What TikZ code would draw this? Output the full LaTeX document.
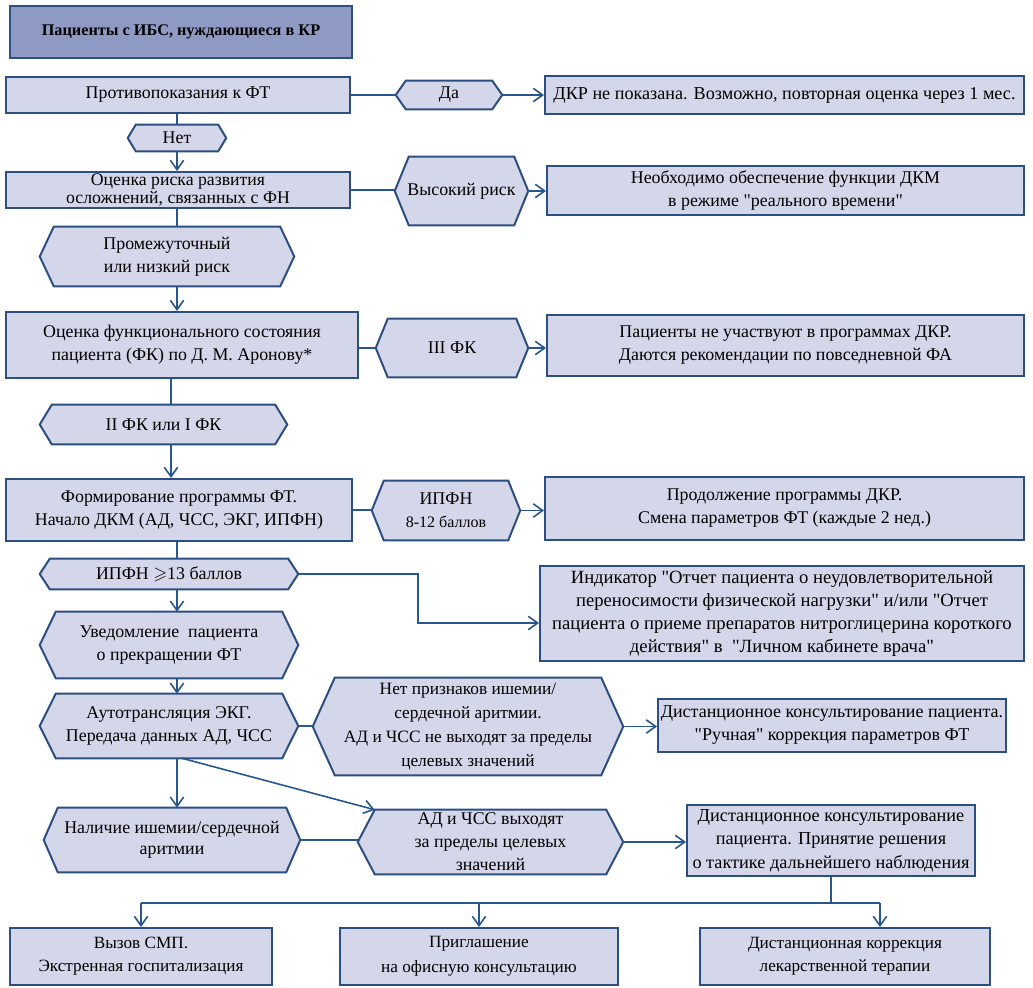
\documentclass[tikz,border=0pt]{standalone}
\usepackage{fontspec}
\setmainfont{Liberation Serif}[Ligatures=TeXOff]
\usepackage{amssymb}
\usetikzlibrary{arrows.meta,calc}
\pgfdeclarelayer{background}
\pgfsetlayers{background,main}
\definecolor{boxfill}{RGB}{212,215,233}
\definecolor{boxline}{RGB}{44,78,128}
\definecolor{titlefill}{RGB}{143,154,196}
\definecolor{conn}{RGB}{40,86,142}
\tikzset{
  boxsty/.style={draw=boxline, fill=boxfill, line width=1.5pt, inner sep=0pt, align=center, font=\fontsize{13.4}{17.25}\selectfont},
  hexlbl/.style={inner sep=0pt, align=center, font=\fontsize{13.4}{17.25}\selectfont},
  hexsty/.style={draw=boxline, fill=boxfill, line width=1.5pt, line join=miter},
  conline/.style={draw=conn, line width=1.2pt},
  conarrow/.style={conline, -{Straight Barb[length=7pt,width=10pt]}},
}
\newcommand\mybox[7][]{%
  \node[boxsty, minimum width={(#4-#3)*0.75pt}, minimum height={(#6-#5)*0.75pt}, #1] (#2) at ({(#3+#4)/2},{(#5+#6)/2}) {#7};}
\newcommand\myhex[8][]{%
  \node[hexlbl, minimum width={(#4-#3)*0.75pt}, minimum height={(#6-#5)*0.75pt}, #1] (#2) at ({(#3+#4)/2},{(#5+#6)/2}) {#8};
  \begin{pgfonlayer}{background}
  \draw[hexsty] (#2.west) -- ($(#2.north west)+(#7,0)$) -- ($(#2.north east)+(-#7,0)$) -- (#2.east) -- ($(#2.south east)+(-#7,0)$) -- ($(#2.south west)+(#7,0)$) -- cycle;
  \end{pgfonlayer}}
\begin{document}
\begin{tikzpicture}[x=0.75pt,y=-0.75pt]
\useasboundingbox (0,0) rectangle (1033,988);
% boxes
\mybox[fill=titlefill, font=\bfseries\fontsize{12.2}{14}\selectfont]{title}{10}{352}{6}{58}{Пациенты с ИБС, нуждающиеся в КР}
\mybox{prot}{6}{350}{77}{113}{Противопоказания к ФТ}
\mybox[font=\fontsize{13.6}{17.25}\selectfont]{dkr}{545}{1024}{76}{114}{ДКР не показана. Возможно, повторная оценка через 1 мес.}
\mybox[font=\fontsize{13.3}{13}\selectfont]{ocr}{6}{350}{172}{208}{Оценка риска развития\\осложнений, связанных с ФН}
\mybox{neob}{547}{1024}{166}{215}{Необходимо обеспечение функции ДКМ\\в режиме "реального времени"}
\mybox{ofs}{6}{358}{312}{378}{Оценка функционального состояния\\пациента (ФК) по Д. М. Аронову*}
\mybox{pac}{547}{1024}{315}{376}{Пациенты не участвуют в программах ДКР.\\Даются рекомендации по повседневной ФА}
\mybox{form}{6}{352}{479}{541}{Формирование программы ФТ.\\Начало ДКМ (АД, ЧСС, ЭКГ, ИПФН)}
\mybox{prod}{545}{1024}{477}{540}{Продолжение программы ДКР.\\Смена параметров ФТ (каждые 2 нед.)}
\mybox[font=\fontsize{14}{17.4}\selectfont]{ind}{540}{1024}{566}{661}{Индикатор "Отчет пациента о неудовлетворительной\\переносимости физической нагрузки" и/или "Отчет\\пациента о приеме препаратов нитроглицерина короткого\\действия" в~ "Личном кабинете врача"}
\mybox[font=\fontsize{13.5}{17.25}\selectfont]{dist1}{658}{1006}{699}{752}{Дистанционное консультирование пациента.\\"Ручная" коррекция параметров ФТ}
\mybox[font=\fontsize{13.7}{17.6}\selectfont]{dist2}{687}{975}{805}{876}{Дистанционное консультирование\\пациента. Принятие решения\\о тактике дальнейшего наблюдения}
\mybox[font=\fontsize{12.9}{17.25}\selectfont]{vyz}{10}{272}{928}{985}{Вызов СМП.\\Экстренная госпитализация}
\mybox[font=\fontsize{12.9}{18.5}\selectfont]{prig}{340}{618}{928}{985}{Приглашение\\на офисную консультацию}
\mybox[font=\fontsize{12.9}{17.25}\selectfont]{dkl}{700}{990}{928}{985}{Дистанционная коррекция\\лекарственной терапии}
% hexagons
\myhex{da}{396}{502}{81}{109}{10}{Да}
\myhex{net}{128}{226}{125}{151}{8}{Нет}
\myhex{vr}{395}{528}{157}{225}{14}{Высокий риск}
\myhex{prom}{40}{294}{227}{286}{14}{Промежуточный\\или низкий риск}
\myhex{iii}{376}{528}{319}{377}{12}{III ФК}
\myhex{ii}{40}{287}{405}{444}{12}{II ФК или I ФК}
\myhex{ipfn}{372}{520}{481}{540}{12}{ИПФН\\{\fontsize{12}{14}\selectfont 8-12 баллов}}
\myhex{ge}{40}{298}{559}{589}{10}{ИПФН $\geqslant$13 баллов}
\myhex{uved}{40}{298}{612}{678}{16}{Уведомление~ пациента\\о прекращении ФТ}
\myhex{auto}{40}{298}{694}{758}{16}{Аутотрансляция ЭКГ.\\Передача данных АД, ЧСС}
\myhex[font=\fontsize{13}{18}\selectfont]{np}{313}{623}{678}{775}{22}{Нет признаков ишемии/\\сердечной аритмии.\\АД и ЧСС не выходят за пределы\\целевых значений}
\myhex[font=\fontsize{13.4}{15.75}\selectfont]{nal}{44}{300}{808}{872}{14}{Наличие ишемии/сердечной\\аритмии}
\myhex{ad}{358}{623}{810}{874}{17}{АД и ЧСС выходят\\за пределы целевых\\значений}
% axis coordinates
\coordinate (xa) at (177,0);
\coordinate (xb) at (171,0);
\coordinate (xd) at (182,0);
\coordinate (ibend) at (418,623);
\coordinate (bus) at (0,903);
\coordinate (bx3) at (880,0);
% connectors
\draw[conline] (prot.east) -- (prot.east -| da.west);
\draw[conarrow] (da.east) -- (da.east -| dkr.west);
\draw[conline] (prot.south -| xa) -- (net.north -| xa);
\draw[conarrow] (net.south -| xa) -- (ocr.north -| xa);
\draw[conline] (ocr.east) -- (ocr.east -| vr.west);
\draw[conarrow] (vr.east) -- (vr.east -| neob.west);
\draw[conline] (ocr.south -| xa) -- (prom.north -| xa);
\draw[conarrow] (prom.south -| xa) -- (ofs.north -| xa);
\draw[conline] (ofs.east |- iii.west) -- (iii.west);
\draw[conarrow] (iii.east) -- (iii.east -| pac.west);
\draw[conline] (ofs.south -| xb) -- (ii.north -| xb);
\draw[conarrow] (ii.south -| xb) -- (form.north -| xb);
\draw[conline] (form.east) -- (form.east -| ipfn.west);
\draw[conarrow] (ipfn.east) -- (ipfn.east -| prod.west);
\draw[conline] (form.south -| xa) -- (ge.north -| xa);
\draw[conarrow] (ge.south -| xa) -- (uved.north -| xa);
\draw[conarrow] (ge.east) -| (ibend) -- (ibend -| ind.west);
\draw[conarrow] (uved.south -| xa) -- (auto.north -| xa);
\draw[conline] (auto.east) -- (auto.east -| np.west);
\draw[conarrow] (np.east) -- (np.east -| dist1.west);
\draw[conarrow] (auto.south -| xa) -- (nal.north -| xa);
\draw[conarrow] (auto.south -| xd) -- ($(ad.north west)+(17,0)$);
\draw[conline] (nal.east) -- (nal.east -| ad.west);
\draw[conarrow] (ad.east) -- (ad.east -| dist2.west);
\draw[conline] (dist2.south) -- (dist2.south |- bus);
\draw[conline] (vyz.north |- bus) -- (bx3 |- bus);
\draw[conarrow] (vyz.north |- bus) -- (vyz.north);
\draw[conarrow] (prig.north |- bus) -- (prig.north);
\draw[conarrow] (bx3 |- bus) -- (bx3 |- dkl.north);
\end{tikzpicture}
\end{document}
